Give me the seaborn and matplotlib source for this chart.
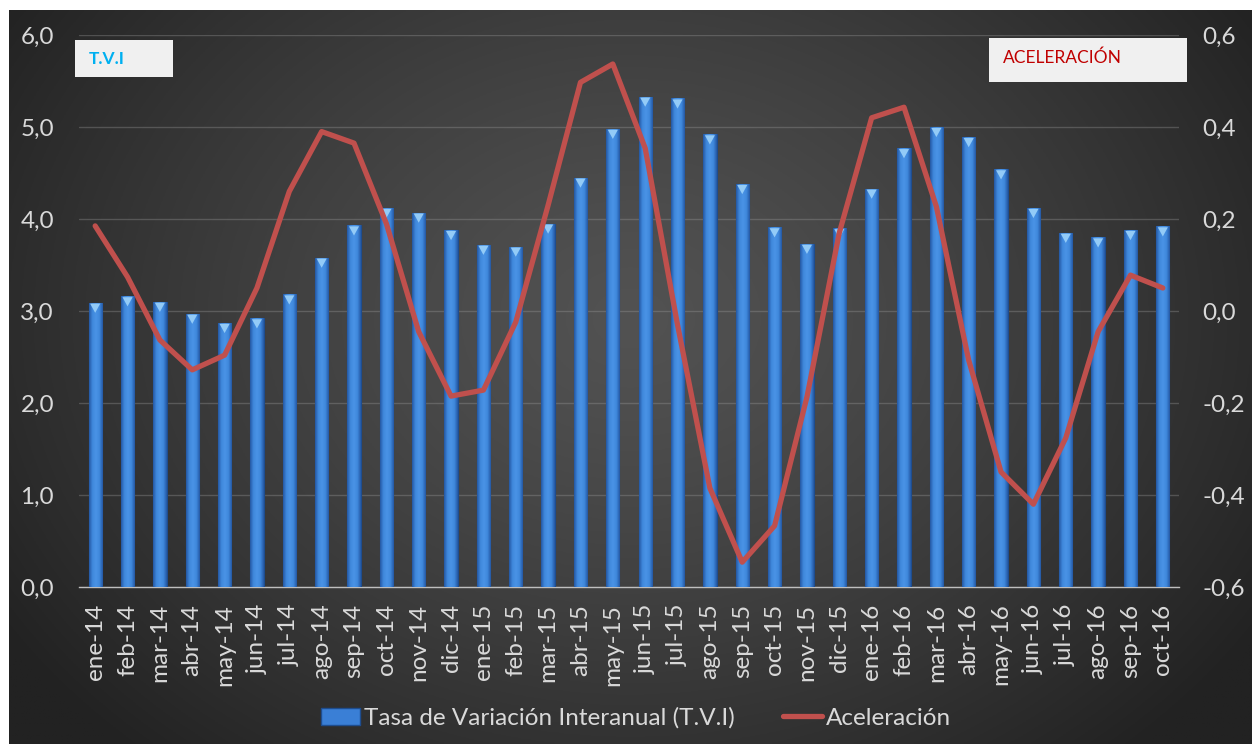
import numpy as np
import seaborn as sns
import matplotlib.pyplot as plt
from matplotlib.patches import Rectangle, Patch, Polygon
from matplotlib.lines import Line2D
from matplotlib.ticker import FuncFormatter, FixedLocator
from matplotlib.colors import LinearSegmentedColormap

# Data
months = ['ene-14', 'feb-14', 'mar-14', 'abr-14', 'may-14', 'jun-14', 'jul-14', 'ago-14',
          'sep-14', 'oct-14', 'nov-14', 'dic-14', 'ene-15', 'feb-15', 'mar-15', 'abr-15',
          'may-15', 'jun-15', 'jul-15', 'ago-15', 'sep-15', 'oct-15', 'nov-15', 'dic-15',
          'ene-16', 'feb-16', 'mar-16', 'abr-16', 'may-16', 'jun-16', 'jul-16', 'ago-16',
          'sep-16', 'oct-16']
tvi = [3.09, 3.16, 3.10, 2.97, 2.87, 2.92, 3.18, 3.58, 3.93, 4.12, 4.07, 3.88,
       3.72, 3.70, 3.95, 4.45, 4.98, 5.33, 5.31, 4.92, 4.38, 3.91, 3.73, 3.90,
       4.33, 4.77, 5.00, 4.89, 4.54, 4.12, 3.85, 3.80, 3.88, 3.92]
acel = [0.185, 0.074, -0.063, -0.128, -0.096, 0.05, 0.26, 0.39, 0.365, 0.19, -0.045, -0.185,
        -0.172, -0.024, 0.23, 0.497, 0.537, 0.354, -0.03, -0.385, -0.546, -0.467, -0.187, 0.17,
        0.42, 0.443, 0.227, -0.107, -0.35, -0.42, -0.276, -0.045, 0.078, 0.05]
legend_labels = ['Tasa de Variación Interanual (T.V.I)', 'Aceleración']

W, H = 1252, 744
txt_col = '#d9d9d9'
bar_col = '#3a7fd6'
line_col = '#c0504d'
fs = 17.5

sns.set_style('dark')
plt.rcParams['font.family'] = ['Lato', 'DejaVu Sans']

fig = plt.figure(figsize=(W / 100, H / 100), dpi=100)
fig.patch.set_facecolor('white')

# Dark radial gradient background for the chart area
bg = fig.add_axes([9 / W, 0, 1 - 9 / W, 1 - 10 / H], zorder=0)
yy, xx = np.mgrid[0:1:300j, 0:1:500j]
d = np.sqrt(((xx - 0.5) / 0.6) ** 2 + ((yy - 0.42) / 0.8) ** 2)
d = np.clip(d, 0, 1) ** 1.3
c0, c1 = np.array([0x52, 0x52, 0x52]) / 255, np.array([0x22, 0x22, 0x22]) / 255
img = c0[None, None, :] * (1 - d[..., None]) + c1[None, None, :] * d[..., None]
bg.imshow(img, aspect='auto', extent=[0, 1, 0, 1], origin='upper')
bg.axis('off')

ax = fig.add_axes([79 / W, (H - 587) / H, 1100 / W, 552 / H], zorder=2)
ax.patch.set_alpha(0)

sns.barplot(x=months, y=tvi, ax=ax, color=bar_col, width=0.41, saturation=1,
            edgecolor='#1e4d8f', linewidth=0.8, zorder=3)

# horizontal gradient and bevel on each bar
grad = np.linspace(0, 1, 64)
grad = 1 - np.abs(grad - 0.5) * 2
bcmap = LinearSegmentedColormap.from_list('b', ['#2458a3', '#3f88dc', '#4a93e6'])
for p in ax.patches:
    x0, w, h = p.get_x(), p.get_width(), p.get_height()
    im = ax.imshow(grad[None, :], cmap=bcmap, aspect='auto',
                   extent=[x0, x0 + w, 0, h], zorder=3.5)
    im.set_clip_path(p)
    tri = Polygon([[x0 + w * 0.12, h - 0.01], [x0 + w * 0.88, h - 0.01], [x0 + w / 2, h - 0.11]],
                  closed=True, facecolor='#93cbf7', edgecolor='none', zorder=4)
    ax.add_patch(tri)

ax.set_xlim(-0.5, len(months) - 0.5)
ax.set_ylim(0, 6)
ax.set_yticks(np.arange(0, 6.01, 1))
fmt = FuncFormatter(lambda v, p: f"{round(v, 1):.1f}".replace('.', ','))
ax.yaxis.set_major_formatter(fmt)
ax.grid(axis='y', color='#9a9a9a', alpha=0.35, linewidth=1)
ax.grid(axis='x', visible=False)
ax.set_axisbelow(True)
ax.tick_params(axis='y', length=0, pad=18, labelsize=fs, labelcolor=txt_col)
ax.tick_params(axis='x', which='major', length=0, pad=12, labelsize=fs,
               labelcolor=txt_col, rotation=90)
ax.xaxis.set_minor_locator(FixedLocator(np.arange(-0.5, len(months), 1)))
ax.tick_params(axis='x', which='minor', length=7, width=1, color='#bfbfbf', direction='out')
for s in ['left', 'right', 'top']:
    ax.spines[s].set_visible(False)
ax.spines['bottom'].set_color('#bfbfbf')
ax.spines['bottom'].set_linewidth(1)
ax.set_xlabel('')
ax.set_ylabel('')

ax2 = ax.twinx()
sns.lineplot(x=np.arange(len(months)), y=acel, ax=ax2, color=line_col, linewidth=3.8,
             zorder=5)
ax2.set_ylim(-0.6, 0.6)
ax2.set_yticks(np.arange(-0.6, 0.61, 0.2))
ax2.yaxis.set_major_formatter(fmt)
ax2.tick_params(axis='y', length=0, pad=17, labelsize=fs, labelcolor=txt_col)
for s in ax2.spines.values():
    s.set_visible(False)
ax2.grid(False)
ax2.set_ylabel('')

# Labels boxes
fig.add_artist(Rectangle((75 / W, 1 - 77 / H), 98 / W, 37 / H, transform=fig.transFigure,
                         facecolor='#f0f0f0', edgecolor='none', zorder=6))
fig.text(89 / W, 1 - 59 / H, 'T.V.I', color='#00b0f0', fontsize=12.5, fontweight='bold',
         va='center', ha='left', zorder=7)
fig.add_artist(Rectangle((989 / W, 1 - 82 / H), 198 / W, 44 / H, transform=fig.transFigure,
                         facecolor='#f0f0f0', edgecolor='none', zorder=6))
fig.text(1003 / W, 1 - 58 / H, 'ACELERACIÓN', color='#c00000', fontsize=12.5,
         va='center', ha='left', zorder=7)

handles = [Patch(facecolor=bar_col, edgecolor='#1e4d8f'),
           Line2D([0], [0], color=line_col, linewidth=3.8)]
fig.legend(handles, legend_labels, loc='center', bbox_to_anchor=(636 / W, 1 - 718 / H),
           ncol=2, frameon=False, fontsize=fs, labelcolor=txt_col, handlelength=1.6,
           handletextpad=0.15, columnspacing=2.0)

fig.savefig('out.png', dpi=100)
